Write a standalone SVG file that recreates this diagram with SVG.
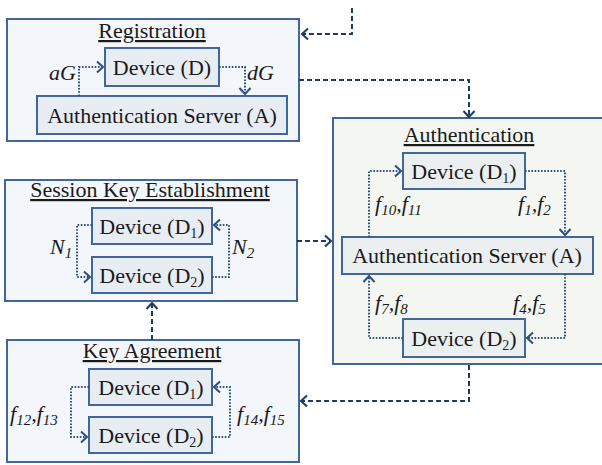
<svg xmlns="http://www.w3.org/2000/svg" width="602" height="465" viewBox="0 0 602 465" font-family="Liberation Serif, DejaVu Serif, serif">
<style>
text{font-size:22px;fill:#1a1a1a}
.title{text-anchor:middle;text-decoration:underline}
.c{text-anchor:middle}
.lab{font-style:italic}
.outer{fill:#f3f6fa;stroke:#41679a;stroke-width:2}
.outerA{fill:#f4f6f2;stroke:#41679a;stroke-width:2}
.inner{fill:#e8edf3;stroke:#41679a;stroke-width:2}
.innerA{fill:#eceff0;stroke:#41679a;stroke-width:2}
.dash{fill:none;stroke:#1f3a63;stroke-width:2;stroke-dasharray:5 3}
.dot{fill:none;stroke:#2c4f80;stroke-width:2;stroke-dasharray:1.6 1.6}
</style>
<defs>
<marker id="ah" markerUnits="userSpaceOnUse" markerWidth="12" markerHeight="14" refX="8" refY="7" orient="auto">
<path d="M2,1.5 L8,7 L2,12.5" fill="none" stroke="#1f3a63" stroke-width="2"/>
</marker>
<marker id="ahd" markerUnits="userSpaceOnUse" markerWidth="12" markerHeight="14" refX="8" refY="7" orient="auto">
<path d="M2,1.5 L8,7 L2,12.5" fill="none" stroke="#2c4f80" stroke-width="2"/>
</marker>
</defs>

<g id="registration">
<rect class="outer" x="7" y="19" width="292" height="122"/>
<text class="title" x="152" y="38">Registration</text>
<rect class="inner" x="105" y="48" width="114" height="38"/>
<text class="c" x="162" y="75">Device (D)</text>
<rect class="inner" x="37" y="96" width="250" height="38"/>
<text class="c" x="162" y="123">Authentication Server (A)</text>
<text class="lab" x="49" y="80">aG</text>
<text class="lab" x="247" y="80">dG</text>
</g>

<g id="authentication">
<rect class="outerA" x="333" y="118" width="275" height="246"/>
<text class="title" x="469" y="142">Authentication</text>
<rect class="innerA" x="403" y="153" width="122" height="36"/>
<text class="c" x="464" y="179">Device (D<tspan font-size="14" dy="4">1</tspan><tspan dy="-4">)</tspan></text>
<rect class="innerA" x="342" y="237" width="251" height="37"/>
<text class="c" x="467" y="263">Authentication Server (A)</text>
<rect class="innerA" x="403" y="319" width="122" height="38"/>
<text class="c" x="464" y="346">Device (D<tspan font-size="14" dy="4">2</tspan><tspan dy="-4">)</tspan></text>
<text class="lab" x="375" y="211">f<tspan font-size="15" dy="4">10</tspan><tspan dy="-4">,f</tspan><tspan font-size="15" dy="4">11</tspan></text>
<text class="lab" x="518" y="211">f<tspan font-size="15" dy="4">1</tspan><tspan dy="-4">,f</tspan><tspan font-size="15" dy="4">2</tspan></text>
<text class="lab" x="375" y="310">f<tspan font-size="15" dy="4">7</tspan><tspan dy="-4">,f</tspan><tspan font-size="15" dy="4">8</tspan></text>
<text class="lab" x="513" y="310">f<tspan font-size="15" dy="4">4</tspan><tspan dy="-4">,f</tspan><tspan font-size="15" dy="4">5</tspan></text>
</g>

<g id="session-key-establishment">
<rect class="outer" x="5" y="180" width="292" height="121"/>
<text class="title" x="150" y="197">Session Key Establishment</text>
<rect class="inner" x="92" y="208" width="120" height="36"/>
<text class="c" x="152" y="234">Device (D<tspan font-size="14" dy="4">1</tspan><tspan dy="-4">)</tspan></text>
<rect class="inner" x="92" y="257" width="120" height="36"/>
<text class="c" x="152" y="283">Device (D<tspan font-size="14" dy="4">2</tspan><tspan dy="-4">)</tspan></text>
<text class="lab" x="50" y="254">N<tspan font-size="15" dy="4">1</tspan></text>
<text class="lab" x="232" y="254">N<tspan font-size="15" dy="4">2</tspan></text>
</g>

<g id="key-agreement">
<rect class="outer" x="7" y="340" width="292" height="122"/>
<text class="title" x="152" y="358">Key Agreement</text>
<rect class="inner" x="89" y="369" width="123" height="36"/>
<text class="c" x="151" y="395">Device (D<tspan font-size="14" dy="4">1</tspan><tspan dy="-4">)</tspan></text>
<rect class="inner" x="89" y="417" width="123" height="36"/>
<text class="c" x="151" y="443">Device (D<tspan font-size="14" dy="4">2</tspan><tspan dy="-4">)</tspan></text>
<text class="lab" x="10" y="421">f<tspan font-size="15" dy="4">12</tspan><tspan dy="-4">,f</tspan><tspan font-size="15" dy="4">13</tspan></text>
<text class="lab" x="237" y="421">f<tspan font-size="15" dy="4">14</tspan><tspan dy="-4">,f</tspan><tspan font-size="15" dy="4">15</tspan></text>
</g>

<g id="connectors">
<path class="dash" d="M352,8 V34 H302" marker-end="url(#ah)"/>
<path class="dash" d="M299,80 H469 V117" marker-end="url(#ah)"/>
<path class="dash" d="M469,365 V401 H301" marker-end="url(#ah)"/>
<path class="dash" d="M297,241 H331" marker-end="url(#ah)"/>
<path class="dash" d="M152,340 V303" marker-end="url(#ah)"/>
<path class="dot" d="M79,96 V67 H103" marker-end="url(#ahd)"/>
<path class="dot" d="M219,67 H245 V94" marker-end="url(#ahd)"/>
<path class="dot" d="M369,237 V171 H401" marker-end="url(#ahd)"/>
<path class="dot" d="M525,171 H565 V235" marker-end="url(#ahd)"/>
<path class="dot" d="M565,274 V338 H527" marker-end="url(#ahd)"/>
<path class="dot" d="M403,338 H369 V276" marker-end="url(#ahd)"/>
<path class="dot" d="M92,225 H77 V277 H90" marker-end="url(#ahd)"/>
<path class="dot" d="M212,277 H229 V225 H214" marker-end="url(#ahd)"/>
<path class="dot" d="M89,387 H71 V437 H87" marker-end="url(#ahd)"/>
<path class="dot" d="M212,437 H230 V387 H214" marker-end="url(#ahd)"/>
</g>
</svg>
